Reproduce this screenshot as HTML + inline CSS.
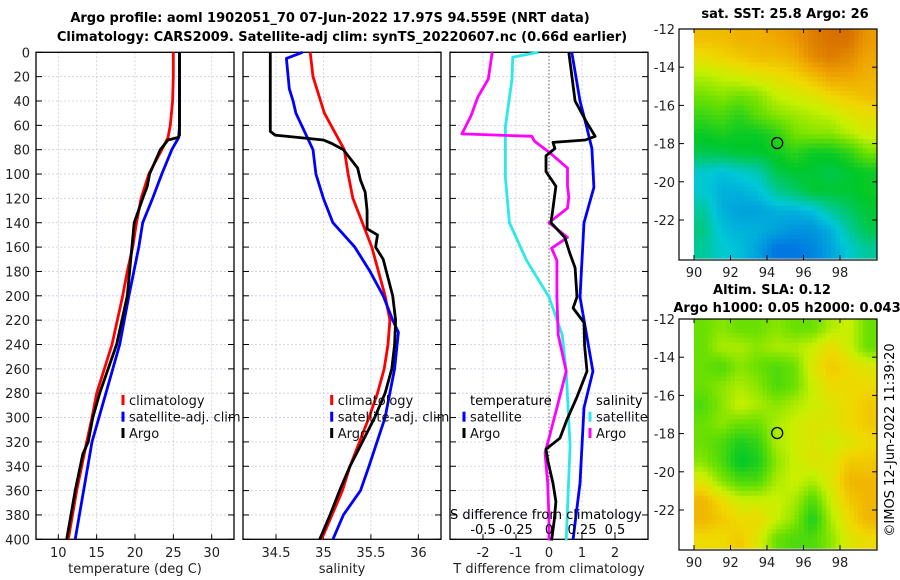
<!DOCTYPE html>
<html><head><meta charset="utf-8">
<style>
html,body{margin:0;padding:0;background:#fff;width:900px;height:580px;overflow:hidden}
svg{display:block;font-family:"DejaVu Sans","Liberation Sans",sans-serif}
</style></head>
<body>
<svg id="fig" width="900" height="580" viewBox="0 0 900 580">
<text x="330" y="22" text-anchor="middle" font-size="13" font-weight="bold">Argo profile: aoml 1902051_70 07-Jun-2022 17.97S 94.559E (NRT data)</text>
<text x="342" y="41" text-anchor="middle" font-size="13" font-weight="bold">Climatology: CARS2009. Satellite-adj clim: synTS_20220607.nc (0.66d earlier)</text>
<text x="785" y="18" text-anchor="middle" font-size="13" font-weight="bold">sat. SST: 25.8 Argo: 26</text>
<text x="772" y="294" text-anchor="middle" font-size="13" font-weight="bold">Altim. SLA: 0.12</text>
<text x="787" y="312" text-anchor="middle" font-size="13" font-weight="bold">Argo h1000: 0.05 h2000: 0.043</text>
<text transform="translate(894,440) rotate(-90)" text-anchor="middle" font-size="13">©IMOS 12-Jun-2022 11:39:20</text>
<g id="plots"></g>
</svg>
<script>
// ---------- data ----------
const tempClimDepth = [0,20,40,60,70,80,100,120,140,160,180,200,240,280,300,320,360,400];
const tempClimVal   = [25.0,25.0,24.9,24.6,24.3,23.5,21.8,20.8,20.2,19.7,19.0,18.4,17.0,15.0,14.4,13.7,12.4,11.3];
const tempSatDepth  = [0,60,70,80,100,120,140,160,200,240,280,320,360,400];
const tempSatVal    = [25.8,25.8,25.7,24.8,23.5,22.3,21.0,20.5,19.2,18.0,16.2,14.4,13.3,12.2];
const tempArgoDepth = [0,68,70,72,80,90,100,110,120,140,160,180,200,240,280,300,320,330,360,400];
const tempArgoVal   = [25.8,25.8,25.6,24.3,23.3,22.6,21.9,21.6,21.0,19.9,19.6,19.3,19.0,17.6,15.4,14.5,13.9,13.2,12.2,11.1];

const salClimDepth = [0,20,30,40,50,80,100,120,140,160,200,220,240,260,280,300,340,360,400];
const salClimVal   = [34.86,34.89,34.93,34.97,35.01,35.22,35.26,35.31,35.41,35.51,35.65,35.70,35.68,35.64,35.57,35.48,35.28,35.20,34.98];
const salSatDepth  = [0,5,30,40,50,60,80,100,120,140,160,180,200,220,230,260,300,340,360,380,400];
const salSatVal    = [34.78,34.61,34.64,34.68,34.71,34.77,34.89,34.92,35.00,35.10,35.33,35.49,35.63,35.73,35.79,35.75,35.65,35.48,35.39,35.21,35.10];
const salArgoDepth = [0,65,68,72,75,80,85,95,105,115,130,145,150,160,170,200,220,240,260,280,300,320,340,360,380,400];
const salArgoVal   = [34.44,34.44,34.49,35.00,35.09,35.21,35.26,35.36,35.39,35.44,35.46,35.46,35.57,35.55,35.63,35.73,35.76,35.75,35.72,35.65,35.54,35.41,35.28,35.17,35.07,34.96];

const dTSatDepth  = [0,40,61,79,111,140,201,262,292,354,400];
const dTSatVal    = [0.69,0.94,1.14,1.30,1.36,1.06,0.94,1.33,1.06,0.94,0.73];
const dTArgoDepth = [0,40,58,69,72,74,79,85,98,110,128,140,152,165,177,201,210,222,241,262,283,302,317,326,335,354,369,384,401];
const dTArgoVal   = [0.60,0.79,1.15,1.40,1.10,0.12,0.18,-0.09,-0.09,0.21,0.12,0.06,0.48,0.63,0.79,0.85,0.73,1.06,1.08,1.15,0.85,0.54,0.33,-0.09,-0.04,0.12,0.21,0.16,0.08];
const dSSatDepth  = [0,4,22,61,103,140,171,201,232,262,323,401];
const dSSatVal    = [-0.08,-0.275,-0.28,-0.33,-0.33,-0.30,-0.17,0.0,0.10,0.13,0.16,0.13];
const dSArgoDepth = [0,22,37,52,67,69,73,82,95,110,119,128,140,152,161,171,201,232,262,292,317,329,354,384,401];
const dSArgoVal   = [-0.43,-0.46,-0.54,-0.59,-0.66,-0.13,-0.11,0.0,0.14,0.14,0.15,0.14,0.0,0.14,0.02,0.06,0.06,0.07,0.13,0.06,0.0,-0.03,-0.01,0.0,0.0];

const depthTicks = [0,20,40,60,80,100,120,140,160,180,200,220,240,260,280,300,320,340,360,380,400];
const tempTicks = [10,15,20,25,30];
const salTicks = [34.5,35,35.5,36];
const dTTicks = [-2,-1,0,1,2];
const dSTicks = [-0.5,-0.25,0,0.25,0.5];
const dSTickLabels = ["-0.5","-0.25","0","0.25","0.5"];

const lonTicks = [90,92,94,96,98];
const latTicks = [-12,-14,-16,-18,-20,-22];
const sstGrid = [
[26.9,26.9,27.0,27.0,27.1,27.2,27.4,27.5,27.5,27.2],
[26.6,26.7,26.8,26.9,26.9,27.0,27.3,27.4,27.3,27.1],
[26.2,26.3,26.4,26.5,26.6,26.7,26.9,27.1,27.1,27.0],
[25.9,26.0,25.9,26.0,26.3,26.4,26.5,26.7,26.8,26.9],
[25.6,25.7,25.5,25.8,26.0,26.1,26.2,26.3,26.5,26.6],
[25.3,25.4,25.3,25.3,25.5,25.9,26.0,26.0,26.2,26.4],
[25.1,25.1,25.2,25.2,25.3,25.5,25.3,25.3,25.5,25.9],
[24.6,24.5,24.6,24.7,25.1,25.2,25.2,25.1,25.2,25.3],
[24.6,24.4,24.4,24.5,24.8,25.0,25.2,25.2,25.2,25.3],
[24.8,24.4,24.3,24.3,24.4,24.4,24.5,24.8,25.0,25.2],
[24.9,24.5,24.4,24.4,24.3,24.2,24.2,24.4,24.8,25.1],
[24.8,24.6,24.5,24.3,24.0,24.0,24.1,24.3,24.6,24.8]];
const slaGrid = [
[0.10,0.11,0.10,0.10,0.11,0.10,0.10,0.12,0.13,0.10],
[0.10,0.12,0.12,0.11,0.12,0.12,0.13,0.15,0.13,0.10],
[0.10,0.09,0.11,0.10,0.09,0.10,0.14,0.16,0.15,0.14],
[0.10,0.11,0.12,0.11,0.09,0.10,0.13,0.15,0.15,0.15],
[0.09,0.11,0.13,0.12,0.11,0.12,0.13,0.14,0.15,0.16],
[0.10,0.11,0.10,0.10,0.12,0.13,0.14,0.14,0.15,0.16],
[0.10,0.09,0.07,0.08,0.12,0.13,0.14,0.13,0.14,0.15],
[0.11,0.09,0.06,0.07,0.11,0.13,0.14,0.14,0.16,0.16],
[0.14,0.11,0.09,0.09,0.12,0.13,0.12,0.14,0.17,0.17],
[0.17,0.15,0.13,0.13,0.13,0.12,0.09,0.13,0.16,0.17],
[0.17,0.16,0.15,0.15,0.13,0.11,0.07,0.12,0.15,0.17],
[0.15,0.15,0.16,0.14,0.10,0.09,0.09,0.11,0.14,0.15]];
const argoLon = 94.559, argoLat = -17.97;

// ---------- helpers ----------
const NS = "http://www.w3.org/2000/svg";
const root = document.getElementById('plots');
function mk(tag, attrs, parent){const e=document.createElementNS(NS,tag);for(const k in attrs)e.setAttribute(k,attrs[k]);(parent||root).appendChild(e);return e;}
const yTop=52.3, yBot=539.3;
const yD = d => yTop + d*(yBot-yTop)/400;
const xT = v => 58.3 + (v-10)*7.67;
const xS = v => 276 + (v-34.5)*94.9;
const xDT = v => 549 + v*33;
const xDS = v => 549 + v*132;

function panel(name,x0,x1,xTicks,xfn,xLabels,xTitle){
  const g=mk('g',{});
  
  
  depthTicks.forEach(d=>{const l=mk('line',{x1:x0,x2:x1,y1:yD(d),y2:yD(d),stroke:'#c5cbe6','stroke-width':0.8,'stroke-dasharray':'2,2'},g);
    
    });
  xTicks.forEach((v,i)=>{const x=xfn(v);
    const l=mk('line',{x1:x,x2:x,y1:yTop,y2:yBot,stroke:'#c5cbe6','stroke-width':0.8,'stroke-dasharray':'2,2'},g);
    
    
    mk('line',{x1:x,x2:x,y1:yBot,y2:yBot-5,stroke:'#000'},g);
    const t=mk('text',{x:x,y:557,'text-anchor':'middle','font-size':13,fill:'#222'},g);t.textContent=xLabels[i];
    
    });
  depthTicks.forEach(d=>{mk('line',{x1:x0,x2:x0+6,y1:yD(d),y2:yD(d),stroke:'#000'},g);mk('line',{x1:x1,x2:x1-6,y1:yD(d),y2:yD(d),stroke:'#000'},g);});
  const r=mk('rect',{x:x0,y:yTop,width:x1-x0,height:yBot-yTop,fill:'none',stroke:'#000','stroke-width':1.3},g);
  
  
  const tt=mk('text',{x:(x0+x1)/2,y:573,'text-anchor':'middle','font-size':13,fill:'#222'},g);tt.textContent=xTitle;
  
  
  return g;
}
function series(name,g,depths,vals,xfn,color){
  const pts=depths.map((d,i)=>xfn(vals[i]).toFixed(1)+','+yD(d).toFixed(1)).join(' ');
  const p=mk('polyline',{points:pts,fill:'none',stroke:color,'stroke-width':2.8,'stroke-linejoin':'round'},g);
  
  
}
function legendEntry(name,x,y,color,label,g){
  mk('rect',{x:x-1.5,y:y-10,width:3,height:10,fill:color},g);
  const t=mk('text',{x:x+6,y:y,'font-size':13,fill:'#111'},g);t.textContent=label;
  
  
}

depthTicks.forEach(d=>{const t=mk('text',{x:30,y:yD(d)+5,'text-anchor':'end','font-size':13,fill:'#222'});t.textContent=d;
  
  });

const p1=panel('temperature-panel',36,234,tempTicks,xT,tempTicks.map(String),'temperature (deg C)');
series('temp-climatology-line',p1,tempClimDepth,tempClimVal,xT,'#f00');
series('temp-satellite-line',p1,tempSatDepth,tempSatVal,xT,'#00f');
series('temp-argo-line',p1,tempArgoDepth,tempArgoVal,xT,'#000');
legendEntry('legend-climatology',123,405,'#f00','climatology',p1);
legendEntry('legend-satellite-adj',123,421.7,'#00f','satellite-adj. clim',p1);
legendEntry('legend-argo',123,438,'#000','Argo',p1);

const p2=panel('salinity-panel',243,441,salTicks,xS,salTicks.map(String),'salinity');
series('sal-climatology-line',p2,salClimDepth,salClimVal,xS,'#f00');
series('sal-satellite-line',p2,salSatDepth,salSatVal,xS,'#00f');
series('sal-argo-line',p2,salArgoDepth,salArgoVal,xS,'#000');
legendEntry('legend-climatology',331.7,405,'#f00','climatology',p2);
legendEntry('legend-satellite-adj',331.7,421.7,'#00f','satellite-adj. clim',p2);
legendEntry('legend-argo',331.7,438,'#000','Argo',p2);

const p3=panel('difference-panel',450,648,dTTicks.filter(v=>v!==0),xDT,['-2','-1','1','2'],'T difference from climatology');
const t0=mk('text',{x:xDT(0),y:557,'text-anchor':'middle','font-size':13,fill:'#222'},p3);t0.textContent='0';
mk('line',{x1:xDT(0),x2:xDT(0),y1:yTop,y2:yBot,stroke:'#555','stroke-width':1,'stroke-dasharray':'1.5,2'},p3);
series('dT-satellite-line',p3,dTSatDepth,dTSatVal,xDT,'#00f');
series('dS-satellite-line',p3,dSSatDepth,dSSatVal,xDS,'#2ee8e8');
series('dS-argo-line',p3,dSArgoDepth,dSArgoVal,xDS,'#f0f');
series('dT-argo-line',p3,dTArgoDepth,dTArgoVal,xDT,'#000');
const th=mk('text',{x:470,y:405,'font-size':13},p3);th.textContent='temperature';


legendEntry('legend-t-satellite',464,421.7,'#00f','satellite',p3);
legendEntry('legend-t-argo',464,438,'#000','Argo',p3);
const sh=mk('text',{x:596,y:405,'font-size':13},p3);sh.textContent='salinity';


legendEntry('legend-s-satellite',590,421.7,'#2ee8e8','satellite',p3);
legendEntry('legend-s-argo',590,438,'#f0f','Argo',p3);
const st=mk('text',{x:450,y:519,'font-size':13},p3);st.textContent='S difference from climatology';


dSTicks.forEach((v,i)=>{const t=mk('text',{x:xDS(v),y:534,'text-anchor':'middle','font-size':13},p3);t.textContent=dSTickLabels[i];
  
  });

// ---------- maps ----------
const stops=[[0,[0,90,230]],[0.2,[0,200,215]],[0.38,[0,200,40]],[0.55,[110,225,0]],[0.66,[200,240,0]],[0.76,[240,215,0]],[0.87,[240,165,0]],[1,[210,100,0]]];
function cmap(t){t=Math.max(0,Math.min(1,t));for(let i=1;i<stops.length;i++){if(t<=stops[i][0]){const a=stops[i-1],b=stops[i];const f=(t-a[0])/(b[0]-a[0]);const c=a[1].map((v,k)=>Math.round(v+(b[1][k]-v)*f));return 'rgb('+c.join(',')+')';}}return 'rgb(210,100,0)';}
function sample(grid,r,c){
  const R=grid.length,C=grid[0].length;
  r=Math.max(0,Math.min(R-1,r));c=Math.max(0,Math.min(C-1,c));
  const r0=Math.floor(r),c0=Math.floor(c),r1=Math.min(R-1,r0+1),c1=Math.min(C-1,c0+1);
  const fr=r-r0,fc=c-c0;
  return grid[r0][c0]*(1-fr)*(1-fc)+grid[r0][c1]*(1-fr)*fc+grid[r1][c0]*fr*(1-fc)+grid[r1][c1]*fr*fc;
}
function drawMap(name,grid,top,norm){
  const g=mk('g',{});
  
  
  const lx=lon=>694+(lon-90)*18.25, ly=lat=>top+(-12-lat)*19.1;
  const sub=4, R=grid.length, C=grid[0].length;
  for(let r=0;r<R*sub;r++)for(let c=0;c<C*sub;c++){
    const gr=(r+0.5)/sub-0.5, gc=(c+0.5)/sub-0.5;
    const v=sample(grid,gr,gc);
    const cell=mk('rect',{x:lx(90+c/sub).toFixed(2),y:ly(-12-r/sub).toFixed(2),width:(18.25/sub+0.5).toFixed(2),height:(19.1/sub+0.5).toFixed(2),fill:cmap(norm(v))},g);
    
    
  }
  mk('rect',{x:679,y:top,width:198,height:231,fill:'none',stroke:'#000','stroke-width':1.2},g);
  lonTicks.forEach(l=>{mk('line',{x1:lx(l),x2:lx(l),y1:top+231,y2:top+226,stroke:'#000'},g);mk('line',{x1:lx(l),x2:lx(l),y1:top,y2:top+4,stroke:'#000'},g);
    const t=mk('text',{x:lx(l),y:top+248,'text-anchor':'middle','font-size':13,fill:'#222'},g);t.textContent=l;
    
    });
  latTicks.forEach(l=>{mk('line',{x1:679,x2:684,y1:ly(l),y2:ly(l),stroke:'#000'},g);mk('line',{x1:877,x2:872,y1:ly(l),y2:ly(l),stroke:'#000'},g);
    const t=mk('text',{x:675,y:ly(l)+5,'text-anchor':'end','font-size':13,fill:'#222'},g);t.textContent=l;
    
    });
  mk('circle',{cx:lx(96.9),cy:ly(-12.1),r:1.2,fill:'#000'},g);
  const m=mk('circle',{cx:lx(argoLon),cy:ly(argoLat),r:5.5,fill:'none',stroke:'#000','stroke-width':1.3},g);
  
  
}
drawMap('sst-map',sstGrid,29,v=>(v-23.8)/3.8);
drawMap('sla-map',slaGrid,319,v=>(v+0.03)/0.24);
</script>
</body></html>
